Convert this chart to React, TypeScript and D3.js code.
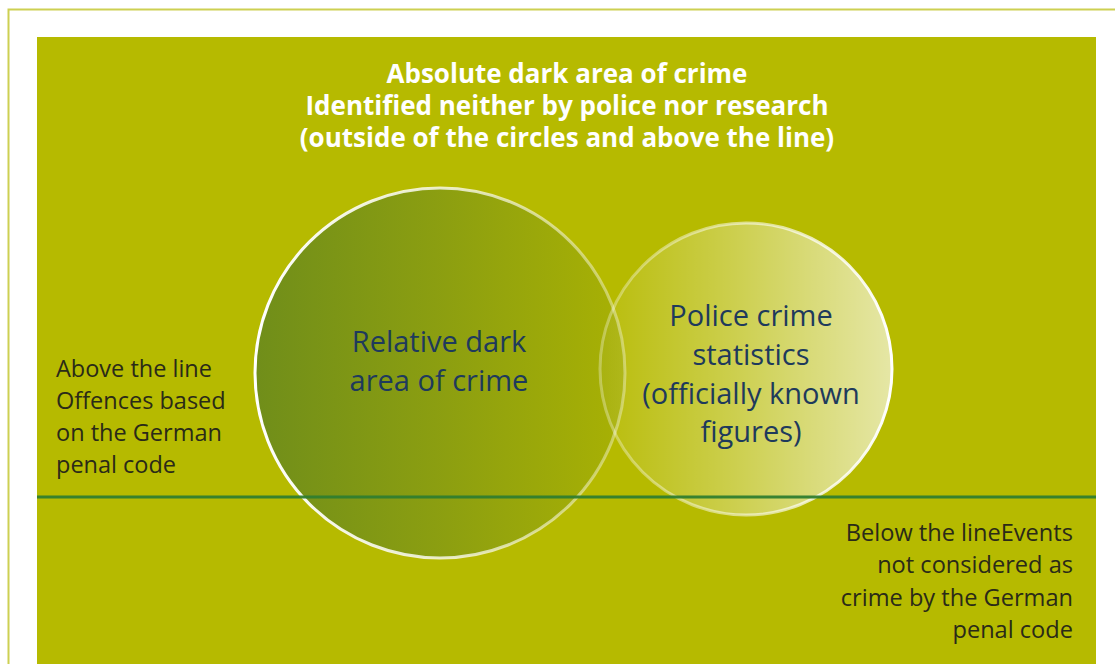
import { useEffect, useRef } from 'react'
import * as d3 from 'd3'

const titleLines = [
  'Absolute dark area of crime',
  'Identified neither by police nor research',
  '(outside of the circles and above the line)',
]
const circleNames = ['relative', 'police']
const circleLabels = [
  ['Relative dark', 'area of crime'],
  ['Police crime', 'statistics', '(officially known', 'figures)'],
]
const aboveLines = ['Above the line', 'Offences based', 'on the German', 'penal code']
const belowLines = ['Below the lineEvents', 'not considered as', 'crime by the German', 'penal code']

export default function App() {
  const svgRef = useRef<SVGSVGElement>(null)

  useEffect(() => {
    if (!svgRef.current) return
    const svg = d3.select(svgRef.current)
    svg.selectAll('*').remove()

    const width = 1115
    const height = 664
    const font = '"Open Sans", Lato, sans-serif'

    // frame
    svg.append('rect').attr('width', width).attr('height', height).attr('fill', '#ffffff')
    svg.append('path')
      .attr('d', `M8.5,${height} V9.5 H${width}`)
      .attr('fill', 'none')
      .attr('stroke', '#cdd052')
      .attr('stroke-width', 2)

    const panel = { x: 37, y: 37, w: 1059, h: height - 37 }
    svg.append('rect')
      .attr('x', panel.x).attr('y', panel.y)
      .attr('width', panel.w).attr('height', panel.h)
      .attr('fill', '#b6ba00')

    const defs = svg.append('defs')
    const grad = (id: string, stops: [number, string, number][]) => {
      const g = defs.append('linearGradient').attr('id', id)
        .attr('x1', '0%').attr('y1', '0%').attr('x2', '100%').attr('y2', '0%')
      stops.forEach(([o, c, op]) => g.append('stop')
        .attr('offset', `${o}%`).attr('stop-color', c).attr('stop-opacity', op))
    }
    grad('relFill', [[0, '#6a8a1c', 1], [50, '#889c12', 1], [100, '#a7b004', 1]])
    grad('relStroke', [[0, '#ffffff', 1], [55, '#ffffff', 0.75], [100, '#ffffff', 0.35]])
    grad('polFill', [[0, '#ffffff', 0.04], [45, '#ffffff', 0.3], [100, '#ffffff', 0.65]])
    grad('polStroke', [[0, '#ffffff', 0.3], [60, '#ffffff', 0.6], [100, '#ffffff', 1]])

    const circles = [
      { cx: 440, cy: 373, r: 185, fill: 'url(#relFill)', stroke: 'url(#relStroke)', opacity: 0.92 },
      { cx: 746, cy: 369, r: 146, fill: 'url(#polFill)', stroke: 'url(#polStroke)', opacity: 1 },
    ]

    svg.append('g').selectAll('circle')
      .data(circles)
      .join('circle')
      .attr('class', (_, i) => circleNames[i])
      .attr('cx', d => d.cx).attr('cy', d => d.cy).attr('r', d => d.r)
      .attr('fill', d => d.fill)
      .attr('fill-opacity', d => d.opacity)
      .attr('stroke', d => d.stroke)
      .attr('stroke-width', 3)

    // penal code line
    svg.append('line')
      .attr('x1', panel.x).attr('x2', panel.x + panel.w)
      .attr('y1', 497).attr('y2', 497)
      .attr('stroke', '#2f7d2f').attr('stroke-opacity', 0.95).attr('stroke-width', 3)

    // title
    svg.append('g').selectAll('text')
      .data(titleLines)
      .join('text')
      .attr('x', 567).attr('y', (_, i) => 83 + i * 32)
      .attr('text-anchor', 'middle')
      .attr('font-family', font).attr('font-weight', 700).attr('font-size', 26)
      .attr('fill', '#ffffff')
      .text(d => d)

    // circle labels
    const labelPos = [
      { x: 439, y: 352 },
      { x: 751, y: 326 },
    ]
    circleLabels.forEach((lines, k) => {
      svg.append('g').selectAll('text')
        .data(lines)
        .join('text')
        .attr('x', labelPos[k].x).attr('y', (_, i) => labelPos[k].y + i * 38.8)
        .attr('text-anchor', 'middle')
        .attr('font-family', font).attr('font-size', 29)
        .attr('fill', '#1e3a5c')
        .text(d => d)
    })

    // side notes
    svg.append('g').selectAll('text')
      .data(aboveLines)
      .join('text')
      .attr('x', 56).attr('y', (_, i) => 377 + i * 32)
      .attr('font-family', font).attr('font-size', 23.5)
      .attr('fill', '#2a2a18')
      .text(d => d)

    svg.append('g').selectAll('text')
      .data(belowLines)
      .join('text')
      .attr('x', 1073).attr('y', (_, i) => 541 + i * 32.3)
      .attr('text-anchor', 'end')
      .attr('font-family', font).attr('font-size', 23.6)
      .attr('fill', '#2a2a18')
      .text(d => d)
  }, [])

  return (
    <svg
      ref={svgRef}
      width={1115}
      height={664}
      style={{ position: 'fixed', left: 0, top: 0, display: 'block' }}
    />
  )
}
